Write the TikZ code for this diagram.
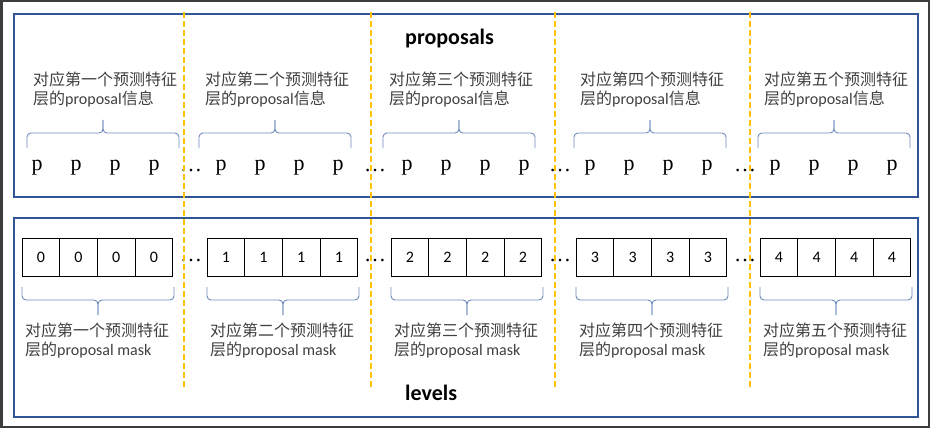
\documentclass[tikz,border=0pt]{standalone}
\usepackage{fontspec}
\setmainfont{Carlito}
\newfontfamily\cjk{Noto Sans CJK SC}
\newfontfamily\pfont{Liberation Serif}
\definecolor{boxblue}{RGB}{47,85,151}
\definecolor{bracegray}{RGB}{112,140,190}
\definecolor{dashyellow}{RGB}{255,192,0}
\definecolor{labelgray}{RGB}{64,64,64}
\definecolor{screengray}{RGB}{60,60,60}
\tikzset{
  panel/.style={draw=boxblue, line width=2.5pt},
  cell/.style={draw=black, line width=1pt, minimum width=37.7pt, minimum height=38.5pt, inner sep=0pt, outer sep=0pt, font=\fontsize{16}{16}\selectfont},
  ptext/.style={font=\pfont\fontsize{22}{22}\selectfont, inner sep=0pt},
  labeltext/.style={text=labelgray, inner sep=0pt, anchor=base west, font=\fontsize{16}{19}\selectfont},
  bracket/.style={draw=bracegray, line width=0.9pt, rounded corners=4pt},
  split/.style={draw=dashyellow, line width=2.6pt, dash pattern=on 6pt off 3pt},
  title/.style={font=\bfseries\fontsize{22}{22}\selectfont, anchor=base west, inner sep=0pt}
}
\begin{document}
\begin{tikzpicture}[x=1pt,y=-1pt]
\useasboundingbox (0,0) rectangle (930,428);
\fill[white] (0,0) rectangle (930,428);
\draw[screengray, line width=5pt] (0,0) rectangle (930,428);
% the two panels
\draw[panel] (14,14) rectangle (918,197);
\draw[panel] (14,218) rectangle (918,417);
\node[title] (proposals) at (405,45) {proposals};
\node[title] (levels) at (405,400) {levels};
% one group per feature level
\foreach \n/\cn/\tb/\ps/\cl [count=\i] in {0/一/27/37/22, 1/二/199/221/207, 2/三/383/407/391, 3/四/574/590/576, 4/五/758/775/760}{
  \node[labeltext] (top\i a) at (\tb+6,85) {\cjk 对应第\cn 个预测特征};
  \node[labeltext] (top\i b) at (\tb+6,104) {{\cjk 层的}proposal{\cjk 信息}};
  \draw[bracket] (\tb,148) -- (\tb,133) -- (\tb+76,133) -- (\tb+76,120);
  \draw[bracket] (\tb+152,148) -- (\tb+152,133) -- (\tb+76,133) -- (\tb+76,120);
  \foreach \k in {0,...,3}
    \node[ptext, anchor=base] (p\i\k) at (\ps+\k*39,170) {p};
  \foreach \k in {0,...,3}
    \node[cell, anchor=north west] (c\i\k) at (\cl+\k*37.7,238.3) {\n};
  \draw[bracket] (\cl,287) -- (\cl,300) -- (\cl+76,300) -- (\cl+76,315);
  \draw[bracket] (\cl+152,287) -- (\cl+152,300) -- (\cl+76,300) -- (\cl+76,315);
  \node[labeltext] (bot\i a) at (\cl+3,336) {\cjk 对应第\cn 个预测特征};
  \node[labeltext] (bot\i b) at (\cl+3,355) {{\cjk 层的}proposal mask};
}
% dots between groups
\foreach \x [count=\j] in {191,375,560,745}{
  \node[ptext, anchor=base] (dt\j) at (\x,171) {\ldots};
  \node[ptext, anchor=base] (db\j) at (\x,261) {\ldots};
}
% dashed separators
\foreach \x in {184,371,555,750}
  \draw[split] (\x,12) -- (\x,388);
\end{tikzpicture}
\end{document}
